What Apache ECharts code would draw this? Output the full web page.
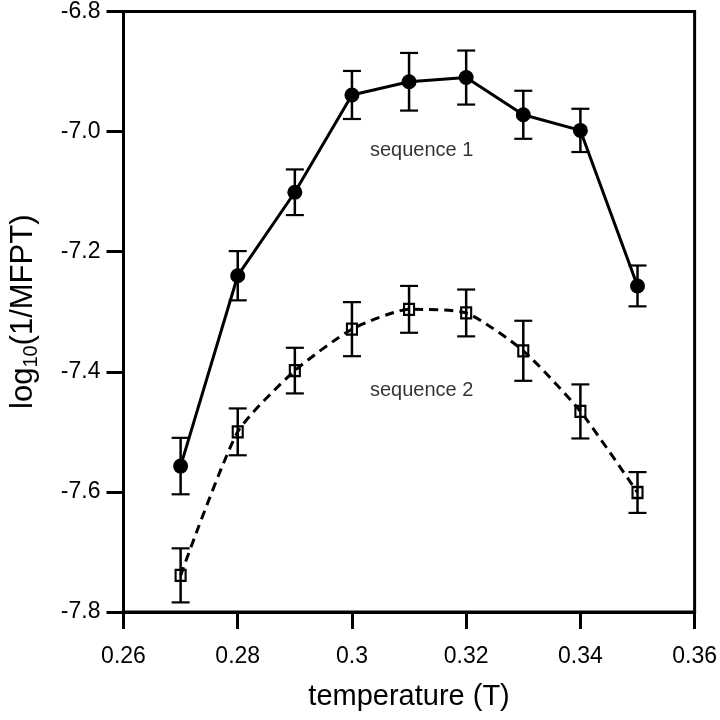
<!DOCTYPE html>
<html>
<head>
<meta charset="utf-8">
<script src="https://cdn.jsdelivr.net/npm/echarts@6/dist/echarts.min.js"></script>
<style>html,body{margin:0;padding:0;background:#fff}#c{width:720px;height:720px}</style>
</head>
<body>
<div id="c"></div>
<script>
const temps = [0.27, 0.28, 0.29, 0.30, 0.31, 0.32, 0.33, 0.34, 0.35];
const seq1 = [-7.557, -7.240, -7.101, -6.939, -6.917, -6.910, -6.972, -6.998, -7.257];
const seq1Err = [0.047, 0.041, 0.038, 0.040, 0.048, 0.045, 0.040, 0.036, 0.034];
const seq2 = [-7.739, -7.500, -7.398, -7.329, -7.296, -7.302, -7.365, -7.466, -7.601];
const seq2Err = [0.045, 0.039, 0.038, 0.045, 0.039, 0.039, 0.050, 0.045, 0.034];
const seriesNames = ['sequence 1', 'sequence 2'];
const labelAt = [[0.3122, -7.0315], [0.3122, -7.4315]];

const FONT = '"Liberation Sans", Arial, Helvetica, sans-serif';

function pts(vals) { return temps.map((t, i) => [t, vals[i]]); }
function errData(vals, errs) { return temps.map((t, i) => [t, vals[i] - errs[i], vals[i] + errs[i]]); }

function errRender(params, api) {
  const x = api.value(0);
  const lo = api.coord([x, api.value(1)]);
  const hi = api.coord([x, api.value(2)]);
  const hw = 9;
  const st = { stroke: '#000', lineWidth: 2.2 };
  return {
    type: 'group',
    children: [
      { type: 'line', shape: { x1: lo[0], y1: lo[1], x2: hi[0], y2: hi[1] }, style: { stroke: '#000', lineWidth: 2.5 } },
      { type: 'line', shape: { x1: lo[0] - hw, y1: lo[1], x2: lo[0] + hw, y2: lo[1] }, style: st },
      { type: 'line', shape: { x1: hi[0] - hw, y1: hi[1], x2: hi[0] + hw, y2: hi[1] }, style: st }
    ]
  };
}

const chart = echarts.init(document.getElementById('c'), null, { renderer: 'canvas' });
chart.setOption({
  animation: false,
  backgroundColor: '#fff',
  grid: { left: 117, right: 22, top: 9.5, bottom: 108, show: true, borderColor: '#000', borderWidth: 3, backgroundColor: 'transparent' },
  xAxis: {
    type: 'value', min: 0.26, max: 0.36, interval: 0.02,
    axisLine: { show: true, lineStyle: { color: '#000', width: 3 } },
    axisTick: { show: true, length: 17, inside: false, lineStyle: { color: '#000', width: 3 } },
    splitLine: { show: false },
    axisLabel: { color: '#000', fontSize: 23, fontFamily: FONT, margin: 33,
      formatter: v => String(Math.round(v * 100) / 100) },
    name: 'temperature (T)', nameLocation: 'middle', nameGap: 70,
    nameTextStyle: { color: '#000', fontSize: 29, fontFamily: FONT }
  },
  yAxis: {
    type: 'value', min: -7.8, max: -6.8, interval: 0.2,
    axisLine: { show: true, lineStyle: { color: '#000', width: 3 } },
    axisTick: { show: true, length: 17, inside: false, lineStyle: { color: '#000', width: 3 } },
    splitLine: { show: false },
    axisLabel: { color: '#000', fontSize: 23, fontFamily: FONT, margin: 23,
      formatter: v => v.toFixed(1) },
    name: '{a|log}{b|10}{a|(1/MFPT)}', nameLocation: 'middle', nameGap: 82, nameRotate: 90,
    nameTextStyle: {
      color: '#000', fontFamily: FONT,
      rich: {
        a: { fontSize: 31, fontFamily: FONT, color: '#000', lineHeight: 36 },
        b: { fontSize: 20, fontFamily: FONT, color: '#000', verticalAlign: 'bottom', lineHeight: 36 }
      }
    }
  },
  series: [
    { type: 'custom', name: 'err1', renderItem: errRender, data: errData(seq1, seq1Err), z: 2, silent: true },
    { type: 'custom', name: 'err2', renderItem: errRender, data: errData(seq2, seq2Err), z: 2, silent: true },
    {
      type: 'line', name: seriesNames[0], data: pts(seq1), z: 3,
      lineStyle: { color: '#000', width: 3, type: 'solid' },
      symbol: 'circle', symbolSize: 15,
      itemStyle: { color: '#000', borderColor: '#000', borderWidth: 0 }
    },
    {
      type: 'line', name: seriesNames[1], data: pts(seq2), z: 3, smooth: 0.2,
      lineStyle: { color: '#000', width: 3, type: [9, 6] },
      symbol: 'rect', symbolSize: [10, 11],
      itemStyle: { color: 'rgba(255,255,255,0)', borderColor: '#000', borderWidth: 2.2 }
    },
    {
      type: 'scatter', name: 'labels', z: 4, symbolSize: 0, silent: true,
      data: labelAt.map((p, i) => ({ value: p, name: seriesNames[i] })),
      label: { show: true, position: 'inside', formatter: p => p.name, color: '#000', fontSize: 20, fontFamily: FONT }
    }
  ]
});
</script>
</body>
</html>
